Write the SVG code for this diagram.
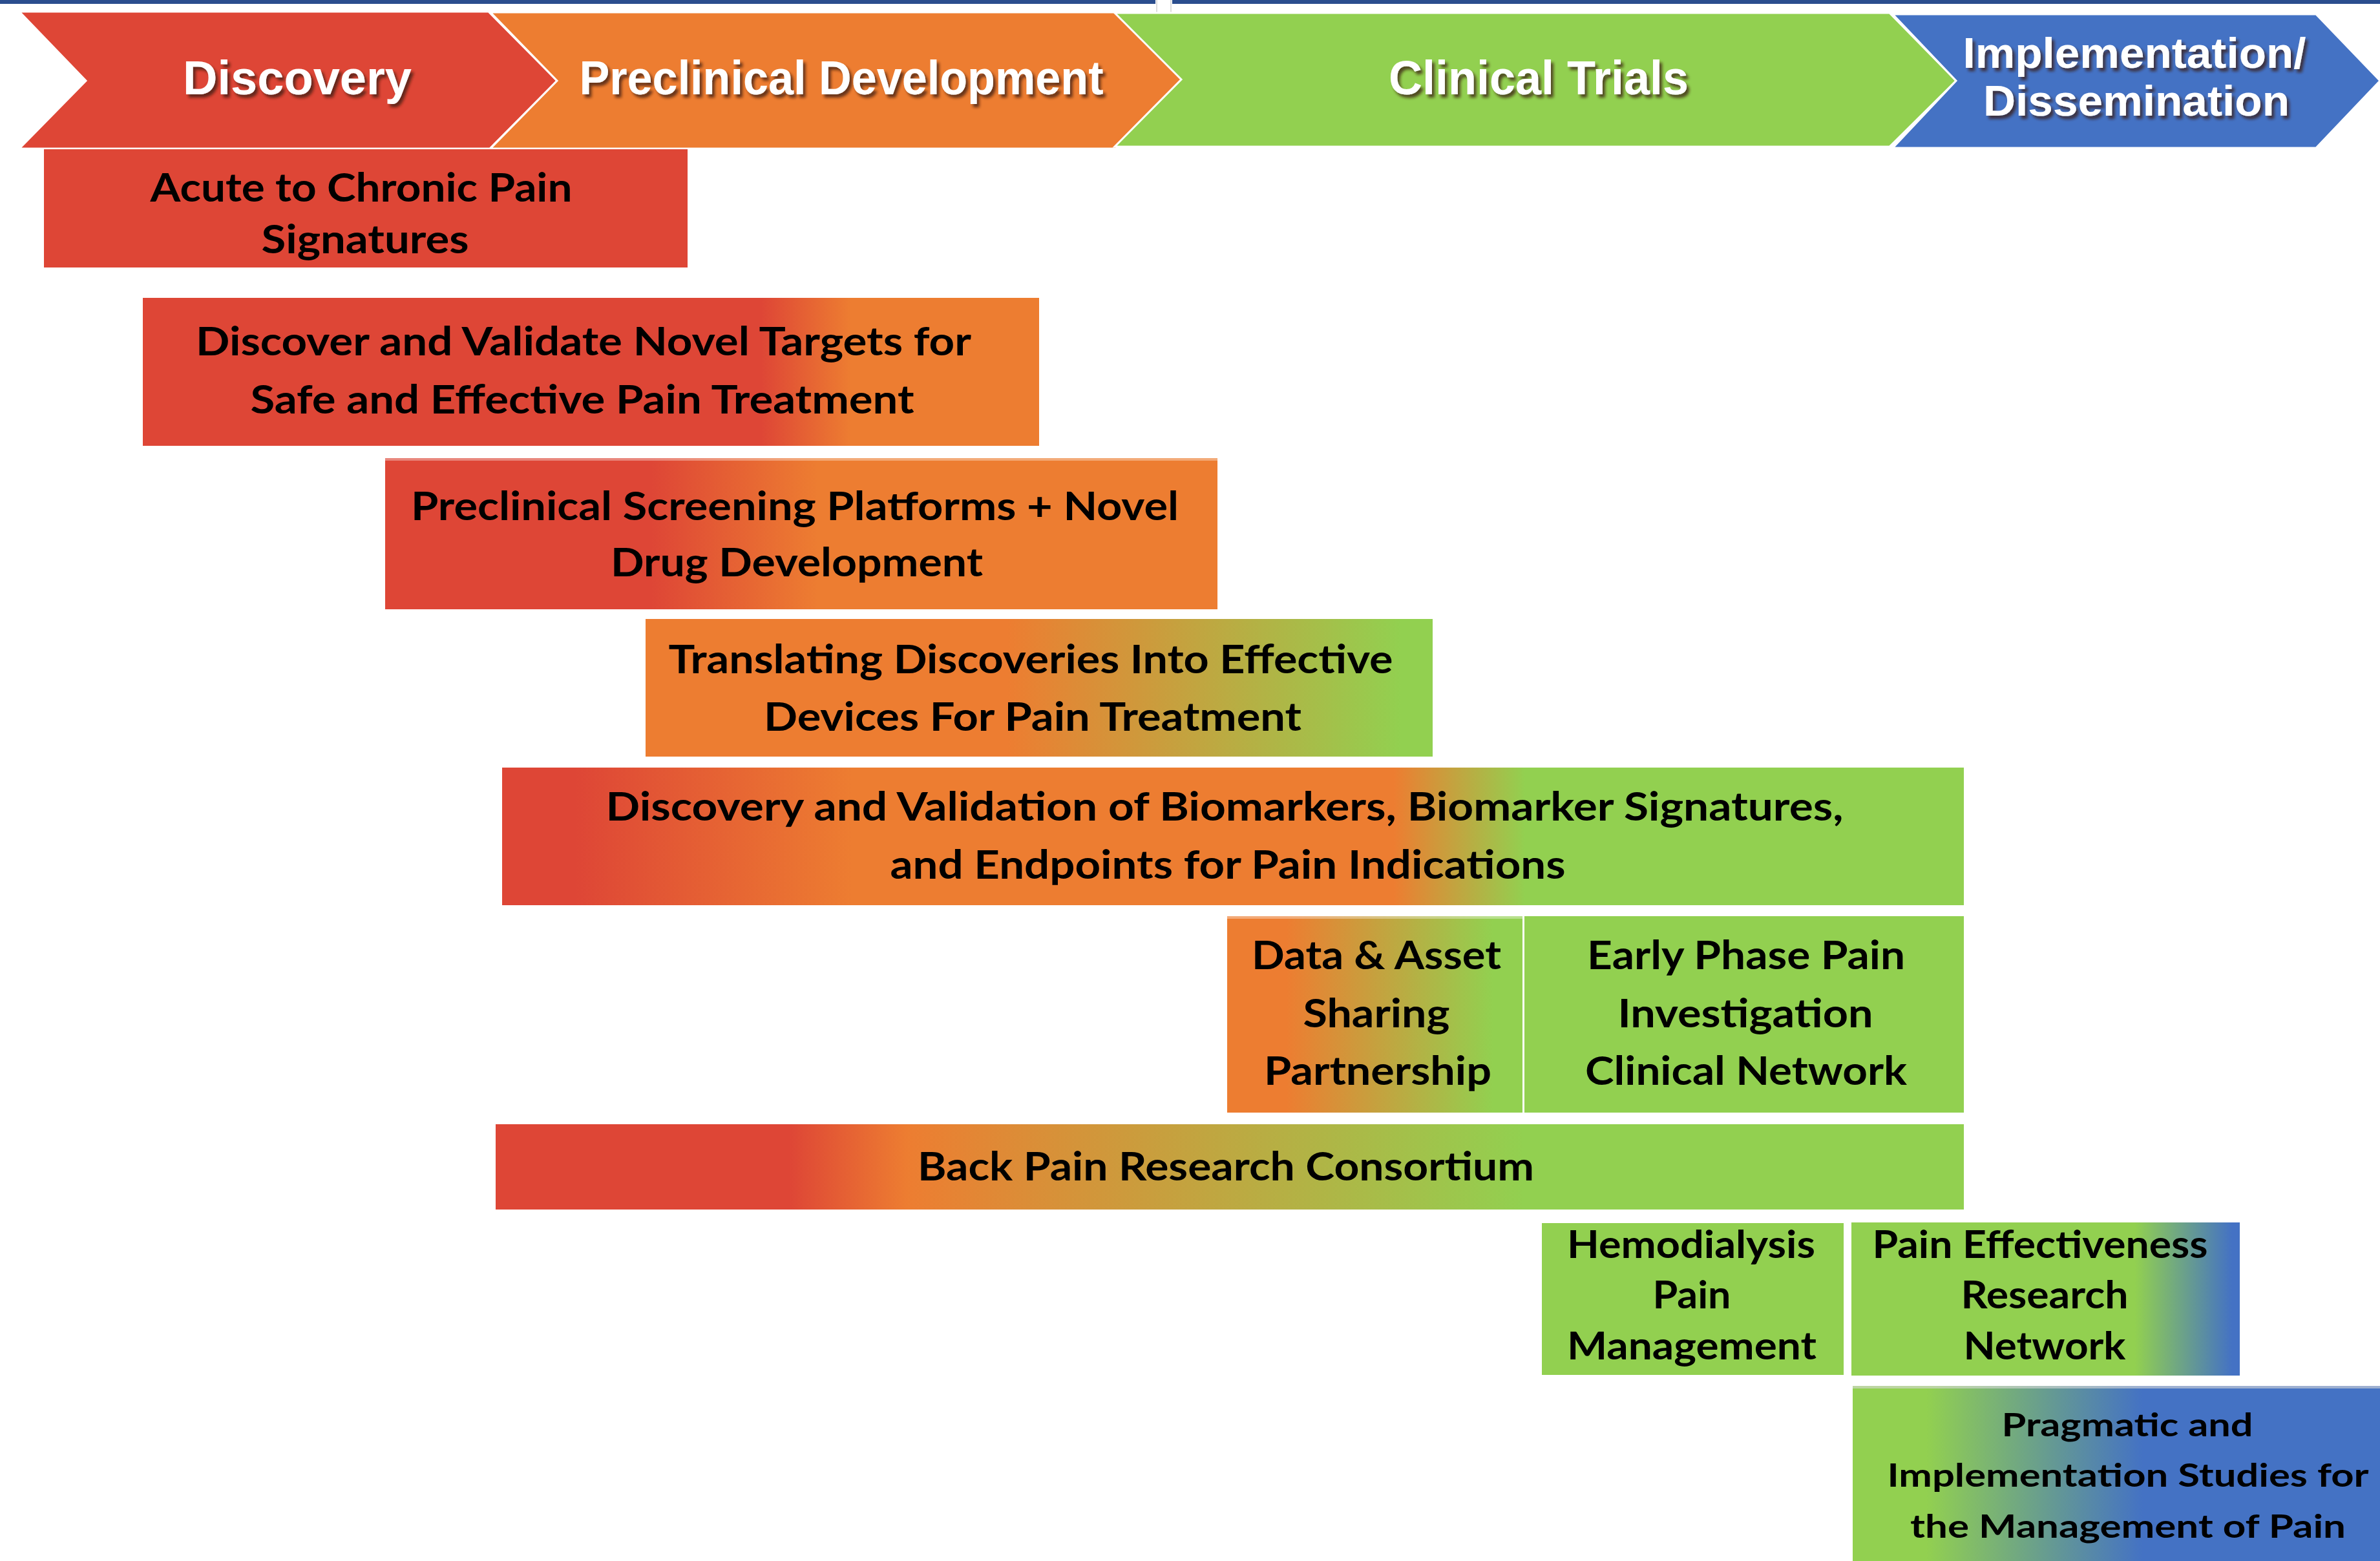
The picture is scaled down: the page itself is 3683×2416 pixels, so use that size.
<svg xmlns="http://www.w3.org/2000/svg" width="3683" height="2416" viewBox="0 0 3683 2416">
<defs>
<style>
.hdr{font-family:"Liberation Sans",Arial,sans-serif;font-weight:700;fill:#fff;text-anchor:middle;filter:url(#sh)}
.arw{stroke:#fff;stroke-width:3;stroke-linejoin:miter}
.t{font-family:Lato,"Open Sans",sans-serif;font-weight:700;fill:#000;text-anchor:middle;font-size:62px}
.t2{font-family:Lato,"Open Sans",sans-serif;font-weight:700;fill:#000;text-anchor:middle;font-size:59px}
.t3{font-family:Lato,"Open Sans",sans-serif;font-weight:700;fill:#000;text-anchor:middle;font-size:49px}
.edge{fill:#fff;opacity:0.35}
</style>
<filter id="sh" x="-10%" y="-20%" width="130%" height="150%">
<feDropShadow dx="4" dy="5" stdDeviation="2" flood-color="#3a1a10" flood-opacity="0.75"/>
</filter>
<linearGradient id="g2"><stop offset="0" stop-color="#DE4636"/><stop offset="0.69" stop-color="#DE4636"/><stop offset="0.79" stop-color="#ED7D31"/><stop offset="1" stop-color="#ED7D31"/></linearGradient>
<linearGradient id="g3"><stop offset="0" stop-color="#DE4636"/><stop offset="0.32" stop-color="#DE4636"/><stop offset="0.52" stop-color="#ED7D31"/><stop offset="1" stop-color="#ED7D31"/></linearGradient>
<linearGradient id="g4"><stop offset="0" stop-color="#ED7D31"/><stop offset="0.46" stop-color="#ED7D31"/><stop offset="0.96" stop-color="#92D050"/><stop offset="1" stop-color="#92D050"/></linearGradient>
<linearGradient id="g5"><stop offset="0" stop-color="#DE4636"/><stop offset="0.05" stop-color="#DE4636"/><stop offset="0.24" stop-color="#ED7D31"/><stop offset="0.61" stop-color="#ED7D31"/><stop offset="0.70" stop-color="#92D050"/><stop offset="1" stop-color="#92D050"/></linearGradient>
<linearGradient id="g6"><stop offset="0" stop-color="#ED7D31"/><stop offset="0.2" stop-color="#ED7D31"/><stop offset="0.9" stop-color="#92D050"/><stop offset="1" stop-color="#92D050"/></linearGradient>
<linearGradient id="g8"><stop offset="0" stop-color="#DE4636"/><stop offset="0.2" stop-color="#DE4636"/><stop offset="0.28" stop-color="#ED7D31"/><stop offset="0.70" stop-color="#92D050"/><stop offset="1" stop-color="#92D050"/></linearGradient>
<linearGradient id="g10"><stop offset="0" stop-color="#92D050"/><stop offset="0.73" stop-color="#92D050"/><stop offset="0.98" stop-color="#4472C4"/><stop offset="1" stop-color="#4472C4"/></linearGradient>
<linearGradient id="g11"><stop offset="0" stop-color="#92D050"/><stop offset="0.14" stop-color="#92D050"/><stop offset="0.55" stop-color="#4472C4"/><stop offset="1" stop-color="#4472C4"/></linearGradient>
</defs>
<rect width="3683" height="2416" fill="#fff"/>
<g id="topbar">
<rect x="0" y="0" width="1788" height="6" fill="#2B4E8E"/>
<rect x="1814" y="0" width="1869" height="6" fill="#2B4E8E"/>
<rect x="1790" y="-1" width="22" height="23" fill="#fff" stroke="#bbb" stroke-width="1"/>
</g>
<g id="phase-discovery">
<polygon class="arw" fill="#DE4636" points="30,18 756,18 862,125 758,230 30,230 133,125"/>
<text class="hdr" x="460" y="146" font-size="75" textLength="354" lengthAdjust="spacingAndGlyphs">Discovery</text>
</g>
<g id="phase-preclinical">
<polygon class="arw" fill="#ED7D31" points="759,19 1727,19 1830,123 1727,230 759,230 862,125"/>
<text class="hdr" x="1302" y="146" font-size="75" textLength="811" lengthAdjust="spacingAndGlyphs">Preclinical Development</text>
</g>
<g id="phase-clinical">
<polygon class="arw" fill="#92D050" points="1725,20 2924,20 3027,125 2924,227 1725,227 1828,123"/>
<text class="hdr" x="2381" y="146" font-size="75" textLength="464" lengthAdjust="spacingAndGlyphs">Clinical Trials</text>
</g>
<g id="phase-implementation">
<polygon class="arw" fill="#4472C4" points="2929,22 3584,22 3683,125 3584,229 2929,229 3027,125"/>
<text class="hdr" x="3303" y="105" font-size="66" textLength="531" lengthAdjust="spacingAndGlyphs">Implementation/</text>
<text class="hdr" x="3306" y="179" font-size="66" textLength="474" lengthAdjust="spacingAndGlyphs">Dissemination</text>
</g>
<g id="connectors"/>
<g id="acute-chronic">
<rect x="68" y="231" width="996" height="183" fill="#DE4636"/>
<text class="t" x="559" y="312" textLength="653" lengthAdjust="spacingAndGlyphs">Acute to Chronic Pain</text>
<text class="t" x="565" y="392" textLength="321" lengthAdjust="spacingAndGlyphs">Signatures</text>
</g>
<g id="novel-targets">
<rect x="221" y="461" width="1387" height="229" fill="url(#g2)"/>
<text class="t" x="903" y="550" textLength="1200" lengthAdjust="spacingAndGlyphs">Discover and Validate Novel Targets for</text>
<text class="t" x="901" y="640" textLength="1027" lengthAdjust="spacingAndGlyphs">Safe and Effective Pain Treatment</text>
</g>
<g id="preclinical-screening">
<rect x="596" y="709" width="1288" height="234" fill="url(#g3)"/>
<rect class="edge" x="596" y="709" width="1288" height="4"/>
<text class="t" x="1230" y="805" textLength="1188" lengthAdjust="spacingAndGlyphs">Preclinical Screening Platforms + Novel</text>
<text class="t" x="1233" y="892" textLength="576" lengthAdjust="spacingAndGlyphs">Drug Development</text>
</g>
<g id="devices">
<rect x="999" y="958" width="1218" height="213" fill="url(#g4)"/>
<text class="t" x="1595" y="1042" textLength="1121" lengthAdjust="spacingAndGlyphs">Translating Discoveries Into Effective</text>
<text class="t" x="1598" y="1131" textLength="832" lengthAdjust="spacingAndGlyphs">Devices For Pain Treatment</text>
</g>
<g id="biomarkers">
<rect x="777" y="1188" width="2262" height="213" fill="url(#g5)"/>
<text class="t" x="1895" y="1270" textLength="1915" lengthAdjust="spacingAndGlyphs">Discovery and Validation of Biomarkers, Biomarker Signatures,</text>
<text class="t" x="1900" y="1360" textLength="1045" lengthAdjust="spacingAndGlyphs">and Endpoints for Pain Indications</text>
</g>
<g id="data-asset">
<rect x="1899" y="1418" width="457" height="304" fill="url(#g6)"/>
<rect class="edge" x="1899" y="1418" width="457" height="4"/>
<text class="t" x="2130" y="1500" textLength="386" lengthAdjust="spacingAndGlyphs">Data &amp; Asset</text>
<text class="t" x="2130" y="1590" textLength="227" lengthAdjust="spacingAndGlyphs">Sharing</text>
<text class="t" x="2132" y="1679" textLength="352" lengthAdjust="spacingAndGlyphs">Partnership</text>
</g>
<g id="early-phase">
<rect x="2359" y="1418" width="680" height="304" fill="#92D050"/>
<text class="t" x="2702" y="1500" textLength="492" lengthAdjust="spacingAndGlyphs">Early Phase Pain</text>
<text class="t" x="2701" y="1590" textLength="395" lengthAdjust="spacingAndGlyphs">Investigation</text>
<text class="t" x="2702" y="1679" textLength="498" lengthAdjust="spacingAndGlyphs">Clinical Network</text>
</g>
<g id="back-pain">
<rect x="767" y="1740" width="2272" height="132" fill="url(#g8)"/>
<text class="t" x="1897" y="1827" textLength="954" lengthAdjust="spacingAndGlyphs">Back Pain Research Consortium</text>
</g>
<g id="hemodialysis">
<rect x="2386" y="1893" width="467" height="235" fill="#92D050"/>
<text class="t2" x="2617" y="1947" textLength="384" lengthAdjust="spacingAndGlyphs">Hemodialysis</text>
<text class="t2" x="2618" y="2025" textLength="121" lengthAdjust="spacingAndGlyphs">Pain</text>
<text class="t2" x="2618" y="2104" textLength="386" lengthAdjust="spacingAndGlyphs">Management</text>
</g>
<g id="pern">
<rect x="2865" y="1892" width="601" height="237" fill="url(#g10)"/>
<text class="t2" x="3157" y="1947" textLength="519" lengthAdjust="spacingAndGlyphs">Pain Effectiveness</text>
<text class="t2" x="3164" y="2025" textLength="259" lengthAdjust="spacingAndGlyphs">Research</text>
<text class="t2" x="3164" y="2104" textLength="251" lengthAdjust="spacingAndGlyphs">Network</text>
</g>
<g id="pragmatic">
<rect x="2867" y="2145" width="816" height="271" fill="url(#g11)"/>
<rect x="2867" y="2145" width="816" height="4" fill="#d8d8d8" opacity="0.6"/>
<text class="t3" x="3292" y="2223" textLength="389" lengthAdjust="spacingAndGlyphs">Pragmatic and</text>
<text class="t3" x="3293" y="2301" textLength="745" lengthAdjust="spacingAndGlyphs">Implementation Studies for</text>
<text class="t3" x="3293" y="2380" textLength="674" lengthAdjust="spacingAndGlyphs">the Management of Pain</text>
</g>
</svg>
